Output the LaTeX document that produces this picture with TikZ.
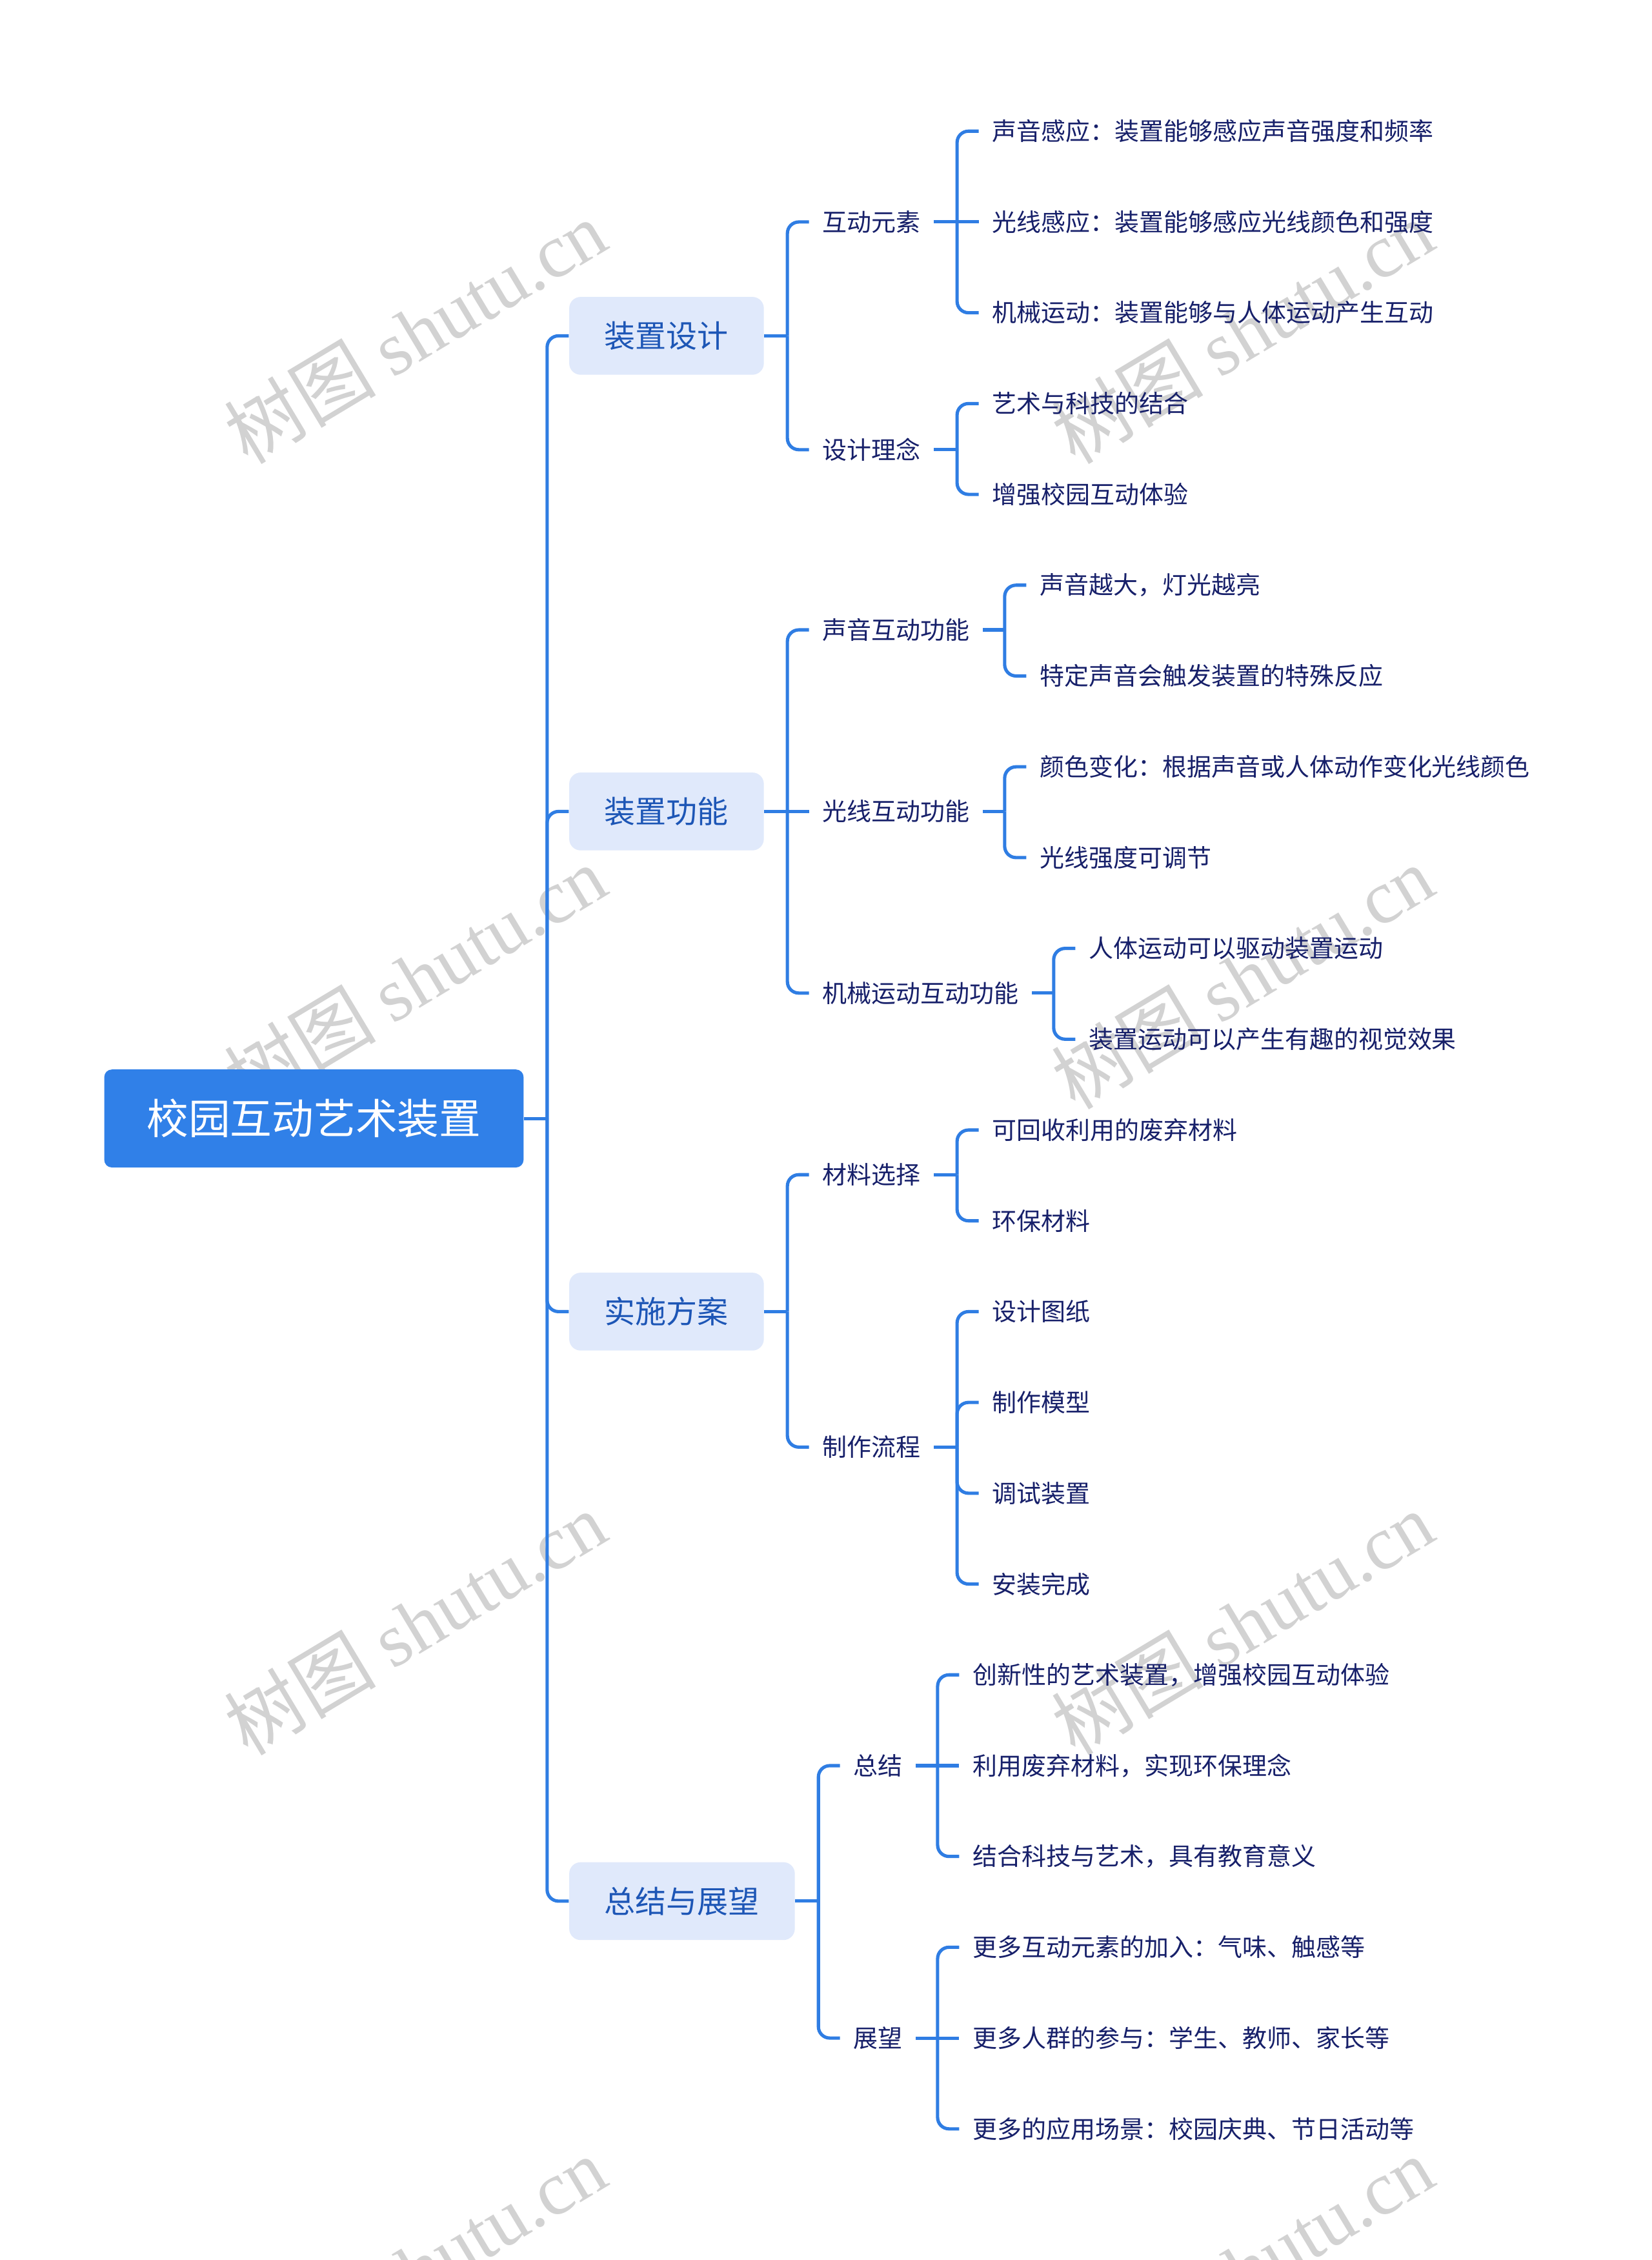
\documentclass[tikz,border=0pt]{standalone}
\usepackage{fontspec}
\setmainfont{Noto Sans CJK SC}
\newfontfamily\wmcjk{Noto Sans CJK SC}
\newfontfamily\wmlat{Liberation Serif}
\usetikzlibrary{calc}
\definecolor{lineblue}{HTML}{2F7DE3}
\definecolor{rootblue}{HTML}{3080E8}
\definecolor{lonefill}{HTML}{E0E9FB}
\definecolor{lonetext}{HTML}{1D56B6}
\definecolor{leaftext}{HTML}{17206A}
\definecolor{wmgray}{HTML}{D2D2D2}
\newcommand\mmbranch[2]{\coordinate (#1v) at ($(#1.east)+(#2,0)$); \draw[conn] (#1.east) -- (#1v);}
\newcommand\mmkid[5]{\node[#4] (#2) at ($(#1v |- 0,#3)+(15,0)$) {#5}; \draw[conn] (#1v) |- (#2.west);}
\newcommand\mmmid[5]{\node[#4] (#2) at ($(#1v |- 0,#3)+(15,0)$) {#5}; \draw[conn] (#1v) -- (#2.west);}
\begin{document}
\begin{tikzpicture}[x=0.02cm,y=-0.02cm,
  conn/.style={draw=lineblue, line width=1.3pt, rounded corners=4.5pt},
  rootbox/.style={fill=rootblue, rounded corners=3pt, text=white, font=\fontsize{16.5pt}{18pt}\selectfont, minimum height=1.36cm, inner xsep=0.59cm, anchor=west},
  lonebox/.style={fill=lonefill, rounded corners=4.5pt, text=lonetext, font=\fontsize{12.24pt}{14pt}\selectfont, minimum height=1.08cm, inner xsep=0.49cm, anchor=west},
  leaf/.style={text=leaftext, font=\fontsize{9.68pt}{11pt}\selectfont, inner xsep=0.18cm, inner ysep=2pt, anchor=west},
  wm/.style={text=wmgray, rotate=31, font=\fontsize{30pt}{32pt}\selectfont, inner sep=0pt}
]
\fill[white] (0,0) rectangle (1146,1568);
\useasboundingbox (0,0) rectangle (1146,1568);
% watermarks
\foreach \wx in {288,862}{
  \foreach \wy in {230,678,1126,1574}{
    \node[wm] at (\wx,\wy) {{\wmcjk 树图} {\wmlat shutu.cn}};
  }
}
% root
\node[rootbox] (root) at (72,776) {校园互动艺术装置};
\mmbranch{root}{16}
\mmkid{root}{a}{233}{lonebox}{装置设计}
\mmkid{root}{b}{563}{lonebox}{装置功能}
\mmkid{root}{c}{910}{lonebox}{实施方案}
\mmkid{root}{d}{1319}{lonebox}{总结与展望}
% a
\mmbranch{a}{16}
\mmkid{a}{a1}{154}{leaf}{互动元素}
\mmkid{a}{a2}{312}{leaf}{设计理念}
\mmbranch{a1}{16}
\mmkid{a1}{a11}{91}{leaf}{声音感应：装置能够感应声音强度和频率}
\mmmid{a1}{a12}{154}{leaf}{光线感应：装置能够感应光线颜色和强度}
\mmkid{a1}{a13}{217}{leaf}{机械运动：装置能够与人体运动产生互动}
\mmbranch{a2}{16}
\mmkid{a2}{a21}{280}{leaf}{艺术与科技的结合}
\mmkid{a2}{a22}{343}{leaf}{增强校园互动体验}
% b
\mmbranch{b}{16}
\mmkid{b}{b1}{437}{leaf}{声音互动功能}
\mmmid{b}{b2}{563}{leaf}{光线互动功能}
\mmkid{b}{b3}{689}{leaf}{机械运动互动功能}
\mmbranch{b1}{15}
\mmkid{b1}{b11}{406}{leaf}{声音越大，灯光越亮}
\mmkid{b1}{b12}{469}{leaf}{特定声音会触发装置的特殊反应}
\mmbranch{b2}{15}
\mmkid{b2}{b21}{532}{leaf}{颜色变化：根据声音或人体动作变化光线颜色}
\mmkid{b2}{b22}{595}{leaf}{光线强度可调节}
\mmbranch{b3}{15}
\mmkid{b3}{b31}{658}{leaf}{人体运动可以驱动装置运动}
\mmkid{b3}{b32}{721}{leaf}{装置运动可以产生有趣的视觉效果}
% c
\mmbranch{c}{16}
\mmkid{c}{c1}{815}{leaf}{材料选择}
\mmkid{c}{c2}{1004}{leaf}{制作流程}
\mmbranch{c1}{16}
\mmkid{c1}{c11}{784}{leaf}{可回收利用的废弃材料}
\mmkid{c1}{c12}{847}{leaf}{环保材料}
\mmbranch{c2}{16}
\mmkid{c2}{c21}{910}{leaf}{设计图纸}
\mmkid{c2}{c22}{973}{leaf}{制作模型}
\mmkid{c2}{c23}{1036}{leaf}{调试装置}
\mmkid{c2}{c24}{1099}{leaf}{安装完成}
% d
\mmbranch{d}{16}
\mmkid{d}{d1}{1225}{leaf}{总结}
\mmkid{d}{d2}{1414}{leaf}{展望}
\mmbranch{d1}{15}
\mmkid{d1}{d11}{1162}{leaf}{创新性的艺术装置，增强校园互动体验}
\mmmid{d1}{d12}{1225}{leaf}{利用废弃材料，实现环保理念}
\mmkid{d1}{d13}{1288}{leaf}{结合科技与艺术，具有教育意义}
\mmbranch{d2}{15}
\mmkid{d2}{d21}{1351}{leaf}{更多互动元素的加入：气味、触感等}
\mmmid{d2}{d22}{1414}{leaf}{更多人群的参与：学生、教师、家长等}
\mmkid{d2}{d23}{1477}{leaf}{更多的应用场景：校园庆典、节日活动等}
\end{tikzpicture}
\end{document}
